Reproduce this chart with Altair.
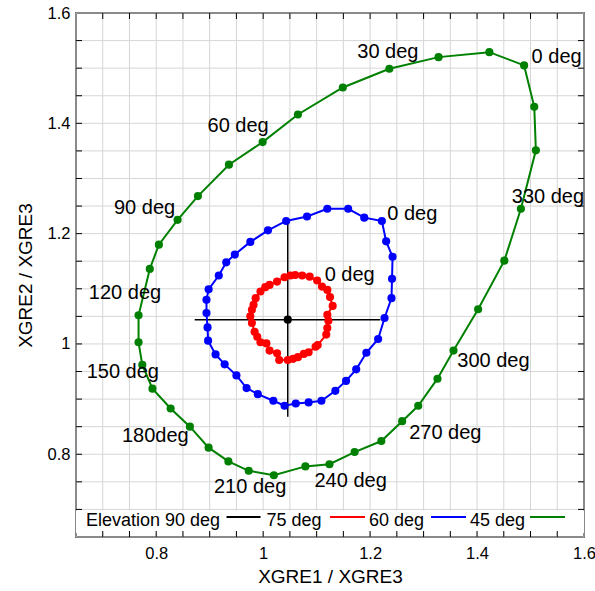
import altair as alt
import pandas as pd

# ---------------- data ----------------
# 45 deg elevation (green), azimuth 0..350 step 10 (120 deg point hidden)
green_x = [1.488, 1.423, 1.328, 1.236, 1.149, 1.065, 0.999, 0.936, 0.878, 0.840, 0.805, 0.788,
           0.767, 0.767, 0.774, 0.793, 0.827, 0.863, 0.898, 0.935, 0.973, 1.020, 1.079, 1.124,
           1.171, 1.221, 1.260, 1.290, 1.326, 1.356, 1.402, 1.451, 1.482, 1.510, 1.507]
green_y = [1.505, 1.529, 1.520, 1.499, 1.465, 1.416, 1.366, 1.325, 1.268, 1.225, 1.180, 1.136,
           1.052, 1.003, 0.962, 0.919, 0.883, 0.850, 0.812, 0.787, 0.770, 0.762, 0.778, 0.782,
           0.804, 0.824, 0.860, 0.888, 0.937, 0.988, 1.063, 1.151, 1.245, 1.351, 1.430]

# 60 deg elevation (blue)
blue_x = [1.222, 1.189, 1.159, 1.120, 1.082, 1.043, 1.009, 0.976, 0.947, 0.931, 0.917, 0.898,
          0.894, 0.894, 0.896, 0.897, 0.911, 0.928, 0.950, 0.969, 0.990, 1.019, 1.040, 1.061,
          1.085, 1.109, 1.135, 1.155, 1.174, 1.193, 1.215, 1.227, 1.240, 1.241, 1.242, 1.230]
blue_y = [1.223, 1.229, 1.245, 1.245, 1.231, 1.223, 1.206, 1.185, 1.162, 1.148, 1.124, 1.099,
          1.080, 1.056, 1.030, 1.006, 0.981, 0.963, 0.943, 0.920, 0.909, 0.897, 0.888, 0.892,
          0.894, 0.897, 0.915, 0.933, 0.954, 0.984, 1.009, 1.047, 1.083, 1.118, 1.158, 1.186]

# 75 deg elevation (red)
red_x = [1.060, 1.073, 1.087, 1.101, 1.110, 1.120, 1.125, 1.130, 1.120, 1.122, 1.120, 1.118,
         1.102, 1.098, 1.085, 1.076, 1.065, 1.056, 1.046, 1.030, 1.026, 1.012, 1.006, 0.995,
         0.989, 0.984, 0.979, 0.976, 0.979, 0.982, 0.986, 0.995, 1.004, 1.012, 1.026, 1.040, 1.051]
red_y = [1.125, 1.124, 1.122, 1.115, 1.104, 1.098, 1.085, 1.069, 1.053, 1.042, 1.029, 1.017,
         0.998, 0.995, 0.985, 0.982, 0.976, 0.973, 0.971, 0.971, 0.983, 0.988, 1.001, 1.003,
         1.013, 1.022, 1.038, 1.050, 1.062, 1.071, 1.083, 1.095, 1.103, 1.107, 1.113, 1.121, 1.124]

# 90 deg elevation (black) with error bars
zen_x = [1.046]
zen_y = [1.044]
zen_xlo = [0.872]
zen_xhi = [1.219]
zen_ylo = [0.868]
zen_yhi = [1.219]

# azimuth annotations (left/baseline anchor, data coordinates)
ann_text = ["0 deg", "30 deg", "60 deg", "90 deg", "120 deg", "150 deg", "180deg",
            "210 deg", "240 deg", "270 deg", "300 deg", "330 deg", "0 deg", "0 deg"]
ann_x = [1.502, 1.176, 0.896, 0.721, 0.674, 0.670, 0.736, 0.908, 1.096, 1.273, 1.363, 1.465,
         1.232, 1.115]
ann_y = [1.510, 1.519, 1.384, 1.236, 1.082, 0.938, 0.823, 0.729, 0.741, 0.828, 0.959, 1.256,
         1.224, 1.115]

tick_labels = [0.8, 1.0, 1.2, 1.4, 1.6]
grid_vals = [0.65, 0.70, 0.75, 0.80, 0.85, 0.90, 0.95, 1.00, 1.05, 1.10, 1.15, 1.20, 1.25,
             1.30, 1.35, 1.40, 1.45, 1.50, 1.55, 1.60]

legend_labels = ["Elevation 90 deg", "75 deg", "60 deg", "45 deg"]
legend_colors = ["black", "#ff0000", "#0000ff", "#008000"]

# ---------------- chart ----------------
W, H = 508, 524
FONT = "Liberation Sans"
xs = alt.Scale(domain=[0.65, 1.6], nice=False, zero=False)
ys = alt.Scale(domain=[0.65, 1.6], nice=False, zero=False)

XAX = alt.Axis(values=tick_labels, format="~g", grid=False, domain=False, ticks=False,
               tickSize=0, labelFont=FONT, labelFontSize=16.5, labelColor="black",
               labelPadding=8, labelFlush=False, labelOverlap=False,
               titleFont=FONT, titleFontSize=19, titleFontWeight="normal",
               titleColor="black", titlePadding=6)
YAX = alt.Axis(values=tick_labels, format="~g", grid=False, domain=False, ticks=False,
               tickSize=0, labelFont=FONT, labelFontSize=16.5, labelColor="black",
               labelPadding=6, labelFlush=False, labelOverlap=False,
               titleFont=FONT, titleFontSize=19, titleFontWeight="normal",
               titleColor="black", titlePadding=12)

XT = "XGRE1 / XGRE3"
YT = "XGRE2 / XGRE3"


def X(f):
    return alt.X(f, type="quantitative", scale=xs, axis=XAX, title=XT)


def Y(f):
    return alt.Y(f, type="quantitative", scale=ys, axis=YAX, title=YT)


grid_df = pd.DataFrame({"v": grid_vals})
one = pd.DataFrame({"a": [0]})

vgrid = alt.Chart(grid_df).mark_rule(color="#d6d6d6", strokeWidth=1).encode(x=X("v"))
hgrid = alt.Chart(grid_df).mark_rule(color="#d6d6d6", strokeWidth=1).encode(y=Y("v"))

legend_box = alt.Chart(one).mark_rect(color="white").encode(
    x=alt.value(0), x2=alt.value(W), y=alt.value(497.5), y2=alt.value(520))

inner = grid_df[(grid_df.v > 0.66) & (grid_df.v < 1.59)]
tick_b = alt.Chart(inner).mark_rule(color="black", strokeWidth=1).encode(
    x=X("v"), y=alt.value(H), y2=alt.value(H - 6))
tick_t = alt.Chart(inner).mark_rule(color="black", strokeWidth=1).encode(
    x=X("v"), y=alt.value(0), y2=alt.value(6))
tick_l = alt.Chart(inner).mark_rule(color="black", strokeWidth=1).encode(
    y=Y("v"), x=alt.value(0), x2=alt.value(6))
tick_r = alt.Chart(inner).mark_rule(color="black", strokeWidth=1).encode(
    y=Y("v"), x=alt.value(W), x2=alt.value(W - 6))


def ring(xv, yv, color):
    df = pd.DataFrame({"x": xv, "y": yv, "o": range(len(xv))})
    closed = pd.concat([df, df.iloc[[0]].assign(o=len(xv))], ignore_index=True)
    line = alt.Chart(closed).mark_line(color=color, strokeWidth=2).encode(
        x=X("x"), y=Y("y"), order="o:Q")
    pts = alt.Chart(df).mark_circle(color=color, opacity=1, size=66).encode(
        x=X("x"), y=Y("y"))
    return line + pts


zen_df = pd.DataFrame({"x": zen_x, "y": zen_y, "xlo": zen_xlo, "xhi": zen_xhi,
                       "ylo": zen_ylo, "yhi": zen_yhi})
zen_h = alt.Chart(zen_df).mark_rule(color="black", strokeWidth=1.5).encode(
    x=X("xlo"), x2="xhi", y=Y("y"))
zen_v = alt.Chart(zen_df).mark_rule(color="black", strokeWidth=1.5).encode(
    y=Y("ylo"), y2="yhi", x=X("x"))
zen_p = alt.Chart(zen_df).mark_circle(color="black", opacity=1, size=66).encode(
    x=X("x"), y=Y("y"))

ann_df = pd.DataFrame({"t": ann_text, "x": ann_x, "y": ann_y})
ann = alt.Chart(ann_df).mark_text(font=FONT, fontSize=20, color="black", align="left",
                                  baseline="alphabetic").encode(
    x=X("x"), y=Y("y"), text="t:N")

# legend (gnuplot style: text followed by sample line)
LBASE = 512.5
LLINE = 504
leg_text_x = [10, 190.5, 293, 394]
leg_line_x = [(150.5, 184.5), (254, 289), (355, 390), (454, 489)]
leg_layers = []
for lab, tx, (l0, l1), col in zip(legend_labels, leg_text_x, leg_line_x, legend_colors):
    leg_layers.append(alt.Chart(one).mark_text(font=FONT, fontSize=18, color="black",
                                               align="left", baseline="alphabetic").encode(
        x=alt.value(tx), y=alt.value(LBASE), text=alt.value(lab)))
    leg_layers.append(alt.Chart(one).mark_rule(color=col, strokeWidth=2).encode(
        x=alt.value(l0), x2=alt.value(l1), y=alt.value(LLINE)))

chart = alt.layer(
    vgrid, hgrid, legend_box, tick_b, tick_t, tick_l, tick_r,
    zen_h, zen_v, zen_p,
    ring(red_x, red_y, "#ff0000"),
    ring(blue_x, blue_y, "#0000ff"),
    ring(green_x, green_y, "#008000"),
    ann, *leg_layers
).properties(
    width=W, height=H,
    autosize=alt.AutoSizeParams(type="none"),
    padding={"left": 76, "top": 13, "right": 11, "bottom": 54},
    background="white",
).configure_view(stroke="black", strokeWidth=1.5)

chart.save("out.html", embed_options={"renderer": "svg", "actions": False})
